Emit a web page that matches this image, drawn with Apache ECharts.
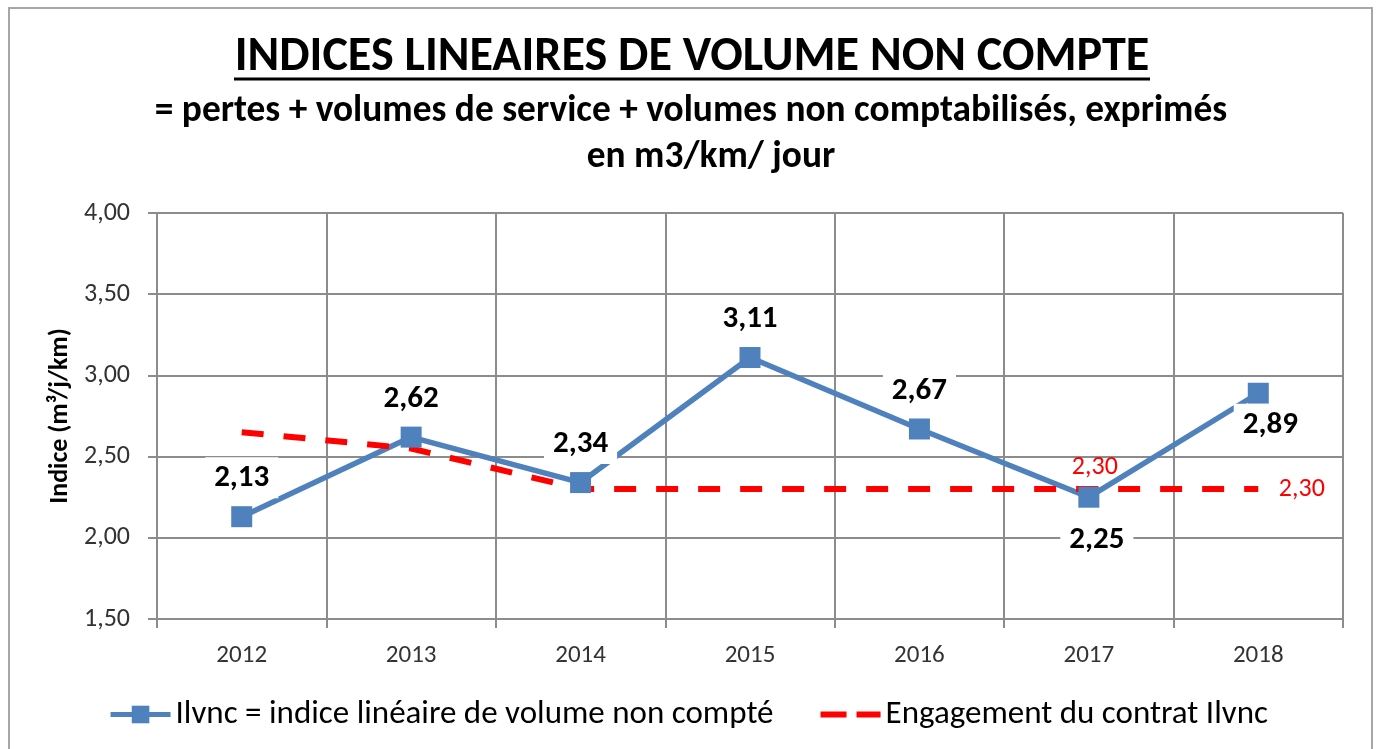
<!DOCTYPE html>
<html>
<head>
<meta charset="utf-8">
<title>Indices linéaires de volume non compté</title>
<script src="https://cdn.jsdelivr.net/npm/echarts@6/dist/echarts.min.js"></script>
<style>
    html, body { margin: 0; padding: 0; background: #fff; }
    #chart { width: 1376px; height: 749px; }
</style>
</head>
<body>
<div id="chart"></div>
<script>
// Chart data
const years = ['2012', '2013', '2014', '2015', '2016', '2017', '2018'];
const ilvnc = [2.13, 2.62, 2.34, 3.11, 2.67, 2.25, 2.89];
const engagement = [2.65, 2.55, 2.30, 2.30, 2.30, 2.30, 2.30];

// Label placement (which side of the point)
const ilvncLabelPos = ['top', 'top', 'top', 'top', 'top', 'bottom', 'bottom'];
const engagementLabelPos = [null, null, null, null, null, 'top', 'right'];

const FONT = 'Carlito, Lato, sans-serif';
const titleText = 'INDICES LINEAIRES DE VOLUME NON COMPTE';
const subLine1 = '= pertes + volumes de service + volumes non comptabilisés, exprimés';
const subLine2 = 'en m3/km/ jour';
const legendNames = ['Ilvnc = indice linéaire de volume non compté', 'Engagement du contrat Ilvnc'];

// Fit a font size so the text covers the wanted width
function fitSize(text, weight, width) {
    const ctx = document.createElement('canvas').getContext('2d');
    ctx.font = `${weight} 100px ${FONT}`;
    return 100 * width / ctx.measureText(text).width;
}

function fmt(v) {
    return v.toFixed(2).replace('.', ',');
}

const titleSize = fitSize(titleText, 'bold', 915);
const subSize = fitSize(subLine1, 'bold', 1073);
const titleCenter = 692;

const chart = echarts.init(document.getElementById('chart'));

const option = {
    backgroundColor: '#fff',
    animation: false,
    title: [
        {
            text: titleText,
            left: titleCenter,
            top: 38,
            textAlign: 'center',
            padding: 0,
            textStyle: { fontFamily: FONT, fontWeight: 'bold', fontSize: titleSize, color: '#000', lineHeight: 40 }
        },
        {
            text: subLine1,
            left: 691,
            top: 92,
            textAlign: 'center',
            padding: 0,
            textStyle: { fontFamily: FONT, fontWeight: 'bold', fontSize: subSize, color: '#000', lineHeight: 40 }
        },
        {
            text: subLine2,
            left: 711,
            top: 138,
            textAlign: 'center',
            padding: 0,
            textStyle: { fontFamily: FONT, fontWeight: 'bold', fontSize: subSize, color: '#000', lineHeight: 40 }
        }
    ],
    graphic: [
        {
            type: 'rect',
            z: -1,
            shape: { x: 9, y: 8, width: 1363, height: 800 },
            style: { fill: 'none', stroke: '#a6a6a6', lineWidth: 2 }
        },
        {
            // title underline
            type: 'line',
            shape: { x1: titleCenter - 458, y1: 79, x2: titleCenter + 458, y2: 79 },
            style: { stroke: '#000', lineWidth: 3 }
        }
    ],
    legend: {
        bottom: 13,
        left: 'center',
        itemWidth: 60,
        itemHeight: 22,
        itemGap: 44,
        textStyle: { fontFamily: FONT, fontSize: 33, color: '#000' },
        data: [
            { name: legendNames[0], lineStyle: { width: 5 } },
            { name: legendNames[1], lineStyle: { width: 6, type: [26, 10] } }
        ]
    },
    grid: {
        left: 157,
        right: 33,
        top: 213,
        bottom: 130
    },
    xAxis: {
        type: 'category',
        data: years,
        boundaryGap: true,
        axisLine: { lineStyle: { color: '#8c8c8c', width: 2 } },
        axisTick: { show: true, length: 9, lineStyle: { color: '#8c8c8c', width: 2 } },
        splitLine: { show: true, lineStyle: { color: '#8c8c8c', width: 2 } },
        axisLabel: { fontFamily: FONT, fontSize: 25, color: '#333', margin: 24 }
    },
    yAxis: {
        type: 'value',
        min: 1.5,
        max: 4,
        interval: 0.5,
        name: 'Indice (m³/j/km)',
        nameLocation: 'middle',
        nameRotate: 90,
        nameGap: 80,
        nameTextStyle: { fontFamily: FONT, fontWeight: 'bold', fontSize: 26, color: '#000' },
        axisLine: { show: true, lineStyle: { color: '#8c8c8c', width: 2 } },
        axisTick: { show: true, length: 9, lineStyle: { color: '#8c8c8c', width: 2 } },
        splitLine: { show: true, lineStyle: { color: '#8c8c8c', width: 2 } },
        axisLabel: {
            fontFamily: FONT, fontSize: 26, color: '#333', margin: 27,
            formatter: v => fmt(v)
        }
    },
    series: [
        {
            name: legendNames[0],
            type: 'line',
            symbol: 'rect',
            symbolSize: 21,
            lineStyle: { color: '#4f81bd', width: 5.5 },
            itemStyle: { color: '#4f81bd' },
            data: ilvnc.map((v, i) => ({
                value: v,
                label: {
                    position: ilvncLabelPos[i],
                    distance: i === 5 ? 11 : (i === 6 ? 0 : 8),
                    offset: i === 6 ? [12, 0] : (i === 5 ? [8, 0] : [0, 0])
                }
            })),
            label: {
                show: true,
                formatter: p => fmt(p.value),
                fontFamily: FONT,
                fontWeight: 'bold',
                fontSize: 31,
                color: '#000',
                backgroundColor: '#fff',
                padding: [6, 9, 4, 9]
            }
        },
        {
            name: legendNames[1],
            type: 'line',
            symbol: 'circle',
            symbolSize: 1,
            lineStyle: { color: '#ff0000', width: 6, type: [22, 20] },
            itemStyle: { color: 'rgba(255,0,0,0)' },
            data: engagement.map((v, i) => ({
                value: v,
                label: engagementLabelPos[i]
                    ? { show: true, position: engagementLabelPos[i], distance: engagementLabelPos[i] === 'right' ? 20 : 8, offset: engagementLabelPos[i] === 'top' ? [6, 0] : [0, 0] }
                    : { show: false }
            })),
            label: {
                formatter: p => fmt(p.value),
                fontFamily: FONT,
                fontSize: 26,
                color: '#ff0000'
            }
        }
    ]
};

chart.setOption(option);
</script>
</body>
</html>
